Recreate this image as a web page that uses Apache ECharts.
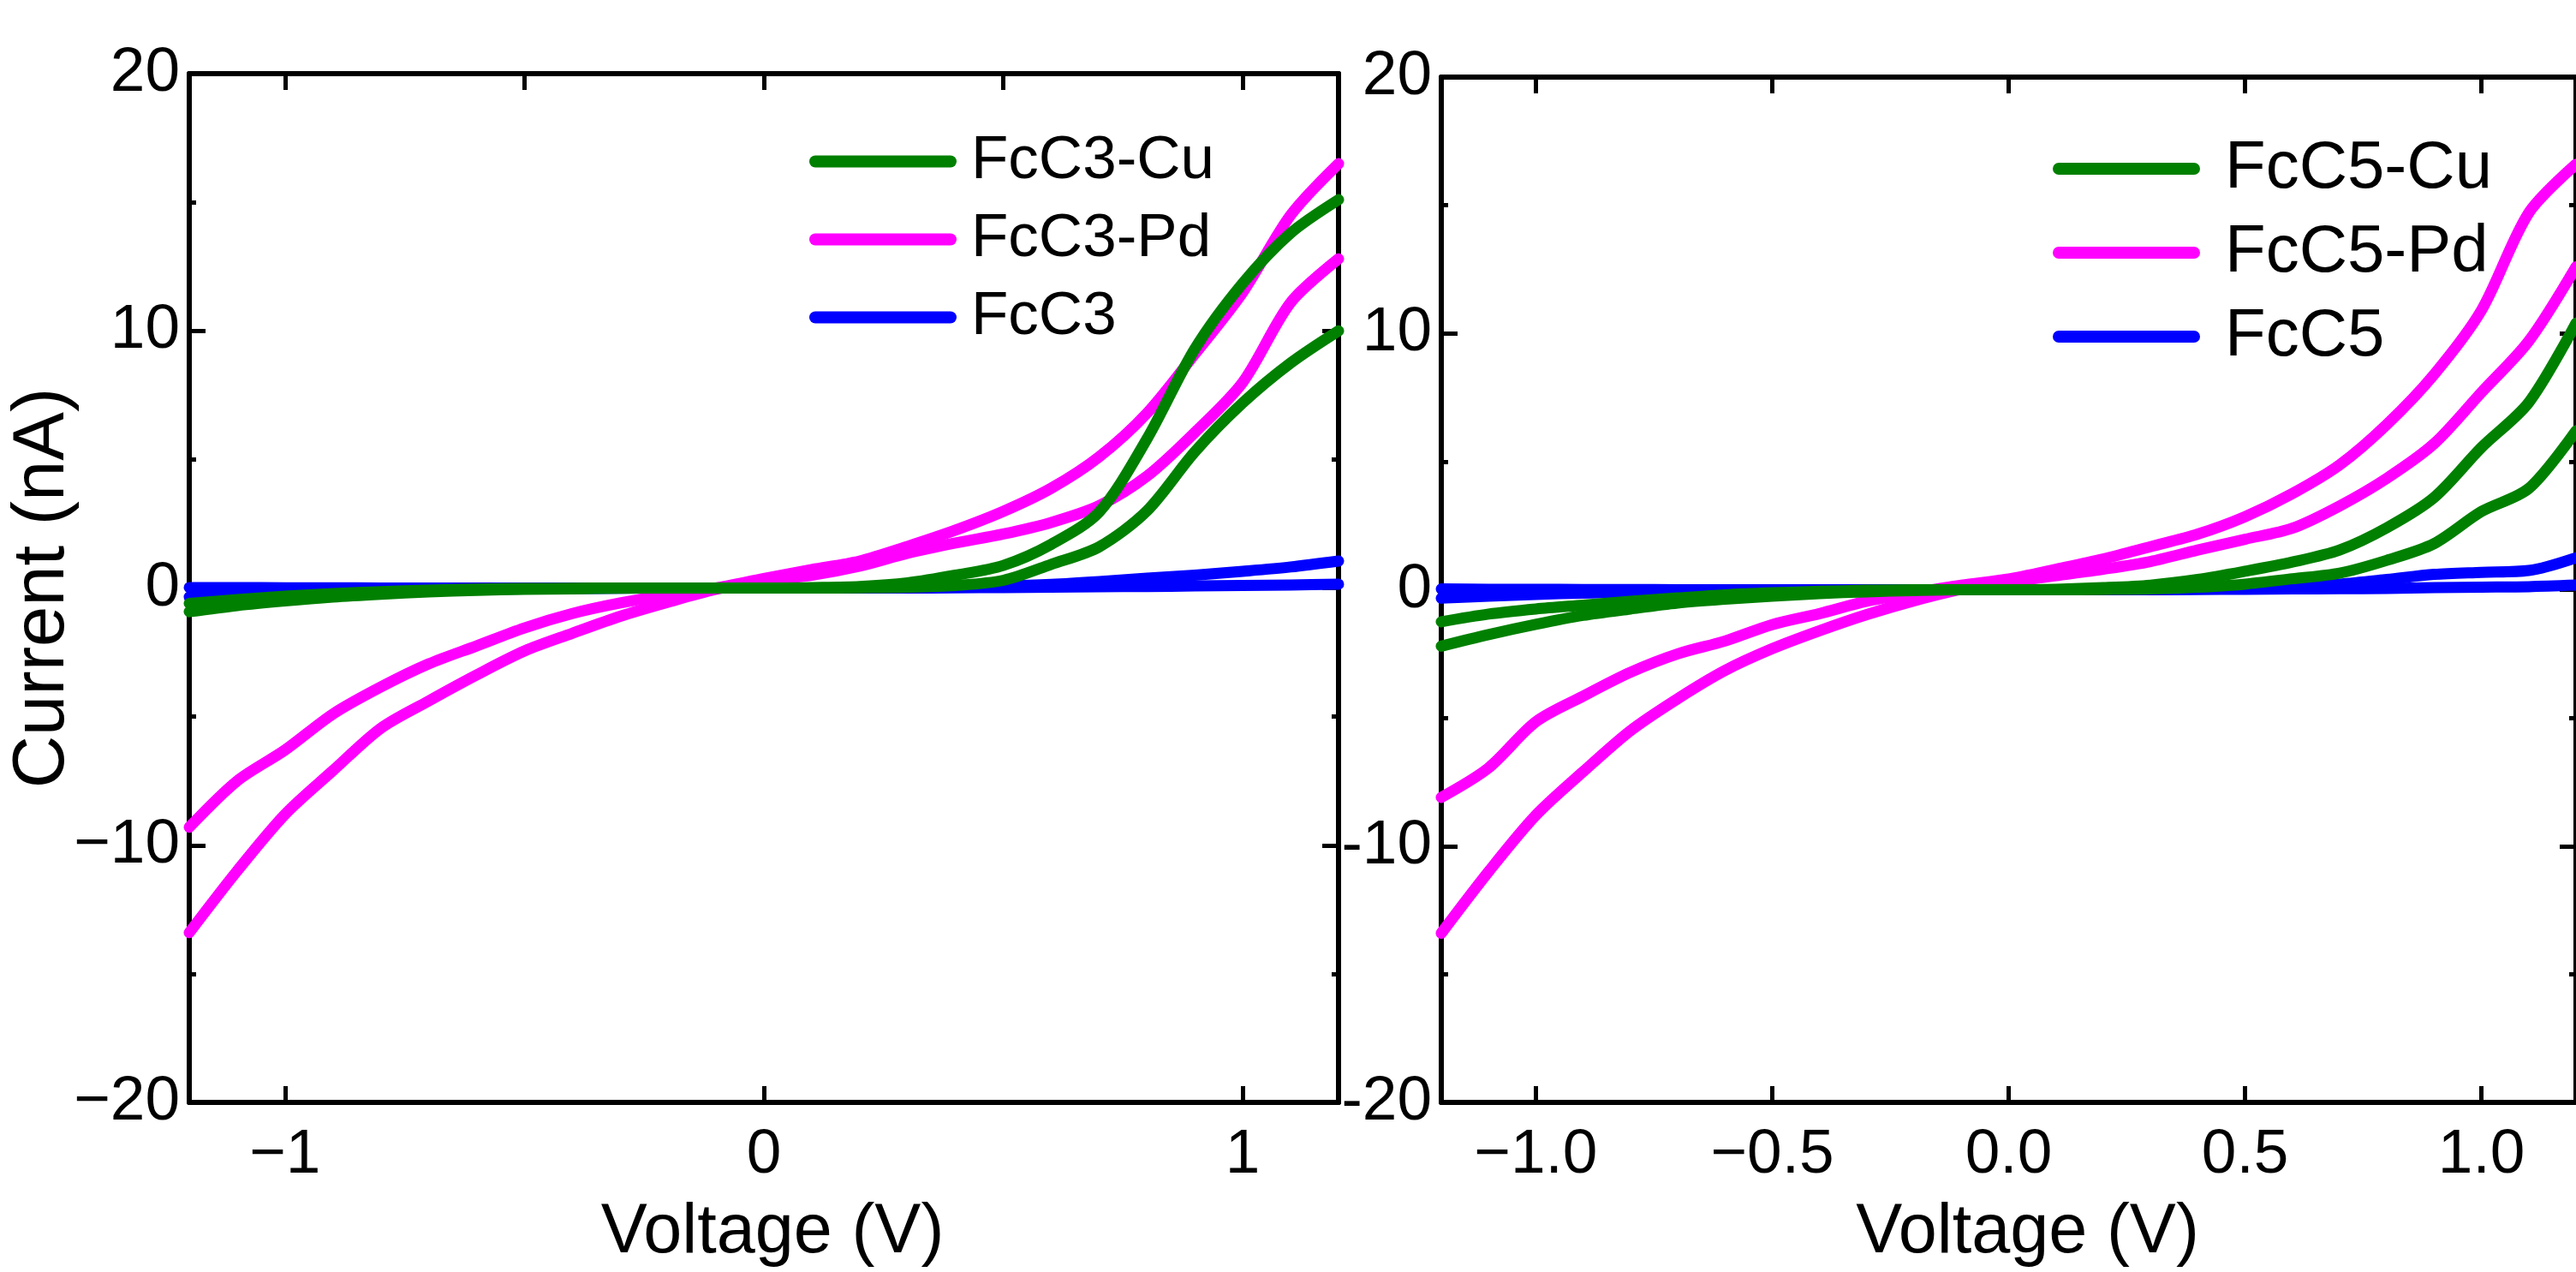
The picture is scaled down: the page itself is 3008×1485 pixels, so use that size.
<!DOCTYPE html>
<html>
<head>
<meta charset="utf-8">
<title>I-V curves FcC3 / FcC5</title>
<script src="https://cdn.jsdelivr.net/npm/echarts@6/dist/echarts.min.js"></script>
<style>
  html, body { margin: 0; padding: 0; background: #fff; }
  #chart { width: 3008px; height: 1485px; }
</style>
</head>
<body>
<div id="chart"></div>
<script>
// voltage grid shared by every sweep branch (V)
const volts = [-1.2, -1.1, -1.0, -0.9, -0.8, -0.7, -0.6, -0.5, -0.4, -0.3, -0.2, -0.1,
  0.0, 0.1, 0.2, 0.3, 0.4, 0.5, 0.6, 0.7, 0.8, 0.9, 1.0, 1.1, 1.2];

// FcC3 panel, current in nA (two sweep branches per sample)
const c3CuUp = [-0.6, -0.45, -0.32, -0.22, -0.14, -0.08, -0.04, -0.02, -0.01, 0, 0, 0,
  0, 0.02, 0.06, 0.2, 0.5, 0.88, 1.7, 2.95, 5.8, 9.3, 11.85, 13.8, 15.1];
const c3CuDown = [-0.92, -0.68, -0.5, -0.35, -0.24, -0.15, -0.09, -0.05, -0.03, -0.01, 0, 0,
  0, 0, 0.01, 0.03, 0.1, 0.3, 0.92, 1.6, 3.0, 5.3, 7.2, 8.75, 10.0];
const c3PdUp = [-9.3, -7.5, -6.3, -4.9, -3.85, -2.95, -2.25, -1.55, -0.99, -0.58, -0.26, 0.0,
  0.37, 0.72, 1.05, 1.62, 2.25, 2.98, 3.88, 5.1, 6.8, 9.1, 11.5, 14.5, 16.5];
const c3PdDown = [-13.4, -11.0, -8.8, -7.1, -5.45, -4.39, -3.38, -2.45, -1.76, -1.1, -0.55, -0.05,
  0.3, 0.5, 0.85, 1.35, 1.75, 2.1, 2.55, 3.2, 4.35, 6.05, 8.0, 11.1, 12.8];
const c3Up = [0.02, 0.02, 0.01, 0.01, 0, 0, 0, 0, 0, 0, 0, 0,
  0, 0, 0.01, 0.02, 0.03, 0.07, 0.14, 0.25, 0.38, 0.5, 0.65, 0.82, 1.05];
const c3Down = [-0.35, -0.27, -0.2, -0.14, -0.1, -0.07, -0.05, -0.03, -0.02, -0.01, 0, 0,
  0, 0, 0, 0, 0.01, 0.02, 0.03, 0.05, 0.06, 0.08, 0.1, 0.12, 0.15];

// FcC5 panel, current in nA
const c5CuUp = [-1.25, -0.95, -0.75, -0.6, -0.45, -0.32, -0.2, -0.12, -0.06, -0.02, 0, 0,
  0, 0.02, 0.08, 0.18, 0.4, 0.72, 1.08, 1.55, 2.42, 3.6, 5.55, 7.3, 10.4];
const c5CuDown = [-2.2, -1.75, -1.35, -1.0, -0.75, -0.52, -0.37, -0.25, -0.15, -0.08, -0.03, 0,
  0, 0, 0.01, 0.03, 0.1, 0.22, 0.43, 0.65, 1.15, 1.8, 3.05, 3.95, 6.2];
const c5PdUp = [-8.1, -6.95, -5.15, -4.15, -3.22, -2.5, -2.0, -1.36, -0.93, -0.45, -0.12, 0.18,
  0.42, 0.8, 1.2, 1.68, 2.17, 2.85, 3.75, 4.87, 6.45, 8.4, 10.9, 14.7, 16.6];
const c5PdDown = [-13.4, -11.0, -8.8, -7.1, -5.5, -4.25, -3.15, -2.3, -1.6, -0.97, -0.43, 0.02,
  0.3, 0.55, 0.8, 1.1, 1.55, 1.97, 2.4, 3.27, 4.35, 5.7, 7.7, 9.7, 12.6];
const c5Up = [0.03, 0.02, 0.02, 0.01, 0.01, 0, 0, 0, 0, 0, 0, 0,
  0, 0, 0.01, 0.02, 0.04, 0.08, 0.13, 0.22, 0.4, 0.6, 0.68, 0.75, 1.25];
const c5Down = [-0.33, -0.25, -0.18, -0.13, -0.09, -0.06, -0.04, -0.02, -0.01, 0, 0, 0,
  0, 0, 0, 0, 0.01, 0.02, 0.03, 0.04, 0.05, 0.08, 0.1, 0.12, 0.18];

// tick positions
const c3Ticks = [-1, 0, 1];
const topTicks = [-1, -0.5, 0, 0.5, 1];
const c5Ticks = [-1, -0.5, 0, 0.5, 1];

const FONT = "'Liberation Sans', Arial, sans-serif";
const GREEN = "#008000", MAGENTA = "#ff00ff", BLUE = "#0000ff";
const minus = (s) => s.replace("-", "\u2212");

const chart = echarts.init(document.getElementById("chart"));

const grids = [
  { left: 221, top: 86, width: 1342, height: 1212 },
  { left: 1683, top: 90, width: 1342, height: 1212 },
];

const lineAxis = { show: true, onZero: false, lineStyle: { color: "#000", width: 6 } };
const tick = (len) => ({ show: true, inside: true, length: len, lineStyle: { color: "#000", width: 5 } });
const minor = { show: true, splitNumber: 2, length: 8, lineStyle: { color: "#000", width: 5 } };
const labelFont = { color: "#000", fontFamily: FONT, fontSize: 73 };

function xAxis(grid, pos, ticks, labels, fmt) {
  return {
    type: "value", gridIndex: grid, position: pos, min: -1.2, max: 1.2,
    axisLine: lineAxis,
    axisTick: Object.assign(tick(19), { customValues: ticks }),
    axisLabel: Object.assign({ show: labels, margin: 25, customValues: ticks, formatter: fmt }, labelFont),
    splitLine: { show: false },
  };
}

function yAxis(grid, pos, labels, fmt) {
  return {
    type: "value", gridIndex: grid, position: pos, min: -20, max: 20, interval: 10,
    axisLine: lineAxis,
    axisTick: tick(19),
    minorTick: minor,
    axisLabel: Object.assign({ show: labels, margin: 11, formatter: fmt }, labelFont),
    splitLine: { show: false },
  };
}

function branch(name, color, values, axis) {
  return {
    name: name, type: "line", xAxisIndex: axis, yAxisIndex: axis,
    data: volts.map((v, i) => [v, values[i]]),
    smooth: 0.3, showSymbol: false, symbol: "none",
    lineStyle: { color: color, width: 13, cap: "round", join: "round" },
    itemStyle: { color: color },
  };
}

const pill = "path://M7,0 L165,0 A7,7 0 0 1 165,14 L7,14 A7,7 0 0 1 7,0 Z";

function legend(names, left, top, size, gap, textGap) {
  return {
    data: names, left: left, top: top, orient: "vertical", padding: 0,
    icon: pill, itemWidth: 172, itemHeight: 14, itemGap: gap,
    textStyle: { color: "#000", fontFamily: FONT, fontSize: size, padding: [0, 0, 0, textGap] },
    selectedMode: false,
  };
}

chart.setOption({
  animation: false,
  backgroundColor: "#fff",
  grid: grids,
  legend: [
    legend(["FcC3-Cu", "FcC3-Pd", "FcC3"], 945, 153, 71, 20, 12),
    legend(["FcC5-Cu", "FcC5-Pd", "FcC5"], 2397, 158, 78, 20, 24),
  ],
  xAxis: [
    Object.assign(xAxis(0, "bottom", c3Ticks, true, (v) => minus(String(v))), {
      name: "Voltage (V)", nameLocation: "middle", nameGap: 112,
      nameTextStyle: { color: "#000", fontFamily: FONT, fontSize: 81, padding: [0, 0, 0, 20] },
    }),
    xAxis(0, "top", topTicks, false),
    Object.assign(xAxis(1, "bottom", c5Ticks, true, (v) => minus(v.toFixed(1))), {
      name: "Voltage (V)", nameLocation: "middle", nameGap: 112,
      nameTextStyle: { color: "#000", fontFamily: FONT, fontSize: 81, padding: [0, 0, 0, 44] },
    }),
    xAxis(1, "top", topTicks, false),
  ],
  yAxis: [
    Object.assign(yAxis(0, "left", true, (v) => minus(String(v))), {
      name: "Current (nA)", nameLocation: "middle", nameGap: 128, nameMoveOverlap: false,
      nameTextStyle: { color: "#000", fontFamily: FONT, fontSize: 85 },
    }),
    yAxis(0, "right", false),
    yAxis(1, "left", true, (v) => String(v)),
    yAxis(1, "right", false),
  ],
  series: [
    branch("FcC3", BLUE, c3Up, 0),
    branch("FcC3", BLUE, c3Down, 0),
    branch("FcC3-Pd", MAGENTA, c3PdUp, 0),
    branch("FcC3-Pd", MAGENTA, c3PdDown, 0),
    branch("FcC3-Cu", GREEN, c3CuUp, 0),
    branch("FcC3-Cu", GREEN, c3CuDown, 0),
    branch("FcC5", BLUE, c5Up, 2),
    branch("FcC5", BLUE, c5Down, 2),
    branch("FcC5-Pd", MAGENTA, c5PdUp, 2),
    branch("FcC5-Pd", MAGENTA, c5PdDown, 2),
    branch("FcC5-Cu", GREEN, c5CuUp, 2),
    branch("FcC5-Cu", GREEN, c5CuDown, 2),
  ],
});

window.addEventListener("resize", () => chart.resize());
</script>
</body>
</html>
